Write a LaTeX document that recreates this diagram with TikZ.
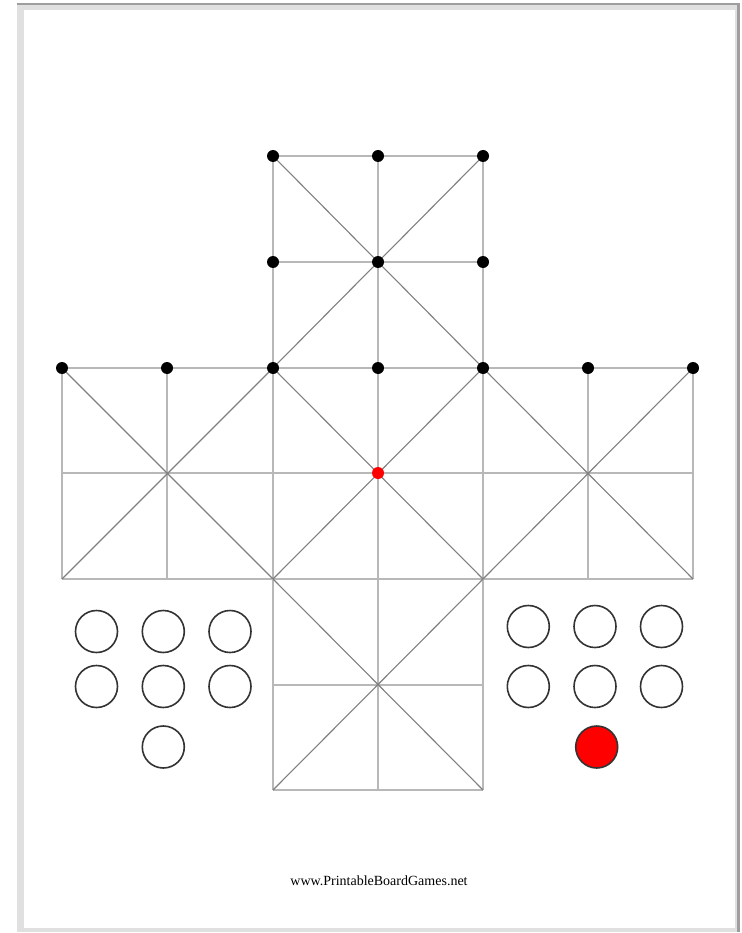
\documentclass[tikz,border=0pt]{standalone}
\usepackage{fontspec}
\setmainfont{Liberation Serif}
\begin{document}
\begin{tikzpicture}[x=1pt,y=-1pt,
  gridline/.style={draw=black!28,line width=1.1pt},
  diagline/.style={draw=black!50,line width=1.1pt},
  blackdot/.style={circle,fill=black,inner sep=0pt,minimum size=12pt},
  reddot/.style={circle,fill=red,inner sep=0pt,minimum size=12pt},
  piece/.style={circle,draw=black!80,line width=1.6pt,inner sep=0pt,minimum size=42pt},
  redpiece/.style={piece,fill=red}]
\useasboundingbox (0,0) rectangle (741,933);
% page frame
\fill[black!12] (17,4) rectangle (740,932);
\fill[black!38] (17,3.5) rectangle (740,5.5);
\fill[black!38] (737,3.5) rectangle (740,932);
\fill[white] (24,10) rectangle (735,928);
% grid coordinates
\foreach \i/\x in {0/62,1/167,2/273,3/378,4/483,5/588,6/693}{
  \foreach \j/\y in {0/156,1/262,2/368,3/473,4/579,5/685,6/790}{
    \coordinate (p\i\j) at (\x,\y);
  }
}
% top arm
\draw[gridline] (p20) -- (p40) (p21) -- (p41) (p20) -- (p22) (p30) -- (p32) (p40) -- (p42);
\draw[diagline] (p20) -- (p42) (p40) -- (p22);
% middle band
\draw[gridline] (p02) -- (p62) (p03) -- (p63) (p04) -- (p64);
\foreach \i in {0,...,6}{\draw[gridline] (p\i2) -- (p\i4);}
\draw[diagline] (p02) -- (p24) (p22) -- (p04);
\draw[diagline] (p22) -- (p44) (p42) -- (p24);
\draw[diagline] (p42) -- (p64) (p62) -- (p44);
% bottom arm
\draw[gridline] (p25) -- (p45) (p26) -- (p46) (p24) -- (p26) (p34) -- (p36) (p44) -- (p46);
\draw[diagline] (p24) -- (p46) (p44) -- (p26);
% dots
\foreach \i in {2,3,4}{\node[blackdot] (d\i0) at (p\i0) {}; \node[blackdot] (d\i1) at (p\i1) {};}
\foreach \i in {0,...,6}{\node[blackdot] (d\i2) at (p\i2) {};}
\node[reddot] (center) at (p33) {};
% pieces left
\node[piece] (l1) at (96.5,631.5) {};
\node[piece] (l2) at (163.3,631.5) {};
\node[piece] (l3) at (230,631.5) {};
\node[piece] (l4) at (96.5,686.5) {};
\node[piece] (l5) at (163.3,686.5) {};
\node[piece] (l6) at (230,686.5) {};
\node[piece] (l7) at (163.3,747) {};
% pieces right
\node[piece] (r1) at (528.3,626.5) {};
\node[piece] (r2) at (595,626.5) {};
\node[piece] (r3) at (661.5,626.5) {};
\node[piece] (r4) at (528.3,686.5) {};
\node[piece] (r5) at (595,686.5) {};
\node[piece] (r6) at (661.5,686.5) {};
\node[redpiece] (r7) at (596.7,747) {};
% footer
\node[font=\fontsize{14}{16}\selectfont] (url) at (379,881) {www.PrintableBoardGames.net};
\end{tikzpicture}
\end{document}
